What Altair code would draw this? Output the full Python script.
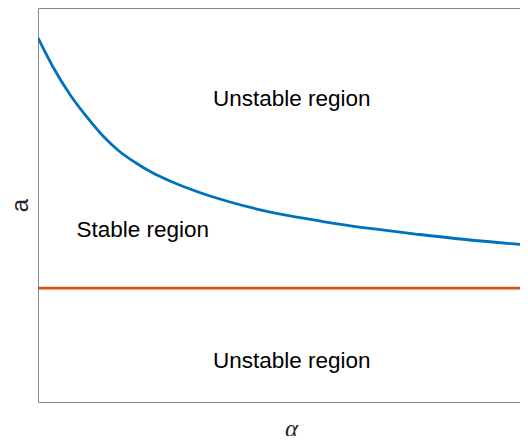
import altair as alt
import pandas as pd

# Boundary curve a(alpha) (normalized units)
alpha_vals = [0.0, 0.0306, 0.0673, 0.0980, 0.1327, 0.1653, 0.2, 0.2347, 0.2694,
              0.3102, 0.3510, 0.3918, 0.4469, 0.5143, 0.5816, 0.6776, 0.7796,
              0.8816, 1.0]
a_vals = [0.9239, 0.8503, 0.7766, 0.7259, 0.6751, 0.6371, 0.6066, 0.5812, 0.5609,
          0.5406, 0.5228, 0.5076, 0.4898, 0.4721, 0.4581, 0.4404, 0.4251,
          0.4112, 0.3985]

lower_bound = [0.289]

label_text = ["Unstable region", "Stable region", "Unstable region"]
label_x = [0.518, 0.214, 0.518]
label_y = [0.770, 0.436, 0.104]

curve = pd.DataFrame({"alpha": alpha_vals, "a": a_vals})
rule_df = pd.DataFrame({"a": lower_bound})
labels = pd.DataFrame({"t": label_text, "x": label_x, "y": label_y})

xs = alt.Scale(domain=[0, 0.984], nice=False, zero=False)
ys = alt.Scale(domain=[0, 1], nice=False, zero=False)

FRAME = "#8a8a8a"

xaxis = alt.Axis(title="α", labels=False, ticks=False, grid=False,
                 domain=True, domainColor=FRAME, domainWidth=1,
                 titleFont="Liberation Serif", titleFontStyle="italic",
                 titleFontWeight="normal", titleFontSize=25, titleColor="#262626",
                 titleX=253, titleY=26, titleBaseline="middle", titleAlign="center")
yaxis = alt.Axis(title="a", labels=False, ticks=False, grid=False,
                 domain=True, domainColor=FRAME, domainWidth=1,
                 titleFont="Liberation Sans", titleFontWeight="normal",
                 titleFontSize=24, titleColor="#262626", titleAngle=-90,
                 titleX=-18, titleBaseline="middle", titleAlign="center")
topaxis = alt.Axis(orient="top", title=None, labels=False, ticks=False, grid=False,
                   domain=True, domainColor=FRAME, domainWidth=1)

line = alt.Chart(curve).mark_line(color="#0072BD", strokeWidth=2.8,
                                  interpolate="monotone", clip=True).encode(
    x=alt.X("alpha:Q", scale=xs, axis=xaxis),
    y=alt.Y("a:Q", scale=ys, axis=yaxis),
)

rule = alt.Chart(rule_df).mark_rule(color="#D95319", strokeWidth=2.8).encode(
    y=alt.Y("a:Q", scale=ys),
)

text = alt.Chart(labels).mark_text(font="Liberation Sans", fontSize=22.5,
                                   color="#000000", align="center",
                                   baseline="middle").encode(
    x=alt.X("x:Q", scale=xs, axis=topaxis),
    y=alt.Y("y:Q", scale=ys),
    text="t:N",
)

chart = alt.layer(line, rule, text).resolve_axis(x="independent").properties(
    width=482, height=394,
    background="white",
    view=alt.ViewBackground(stroke="transparent", strokeOpacity=0),
    autosize=alt.AutoSizeParams(type="none"),
    padding={"left": 30, "top": 0, "right": 0, "bottom": 34},
)

chart.save("out.html", embed_options={"renderer": "svg", "actions": False})
